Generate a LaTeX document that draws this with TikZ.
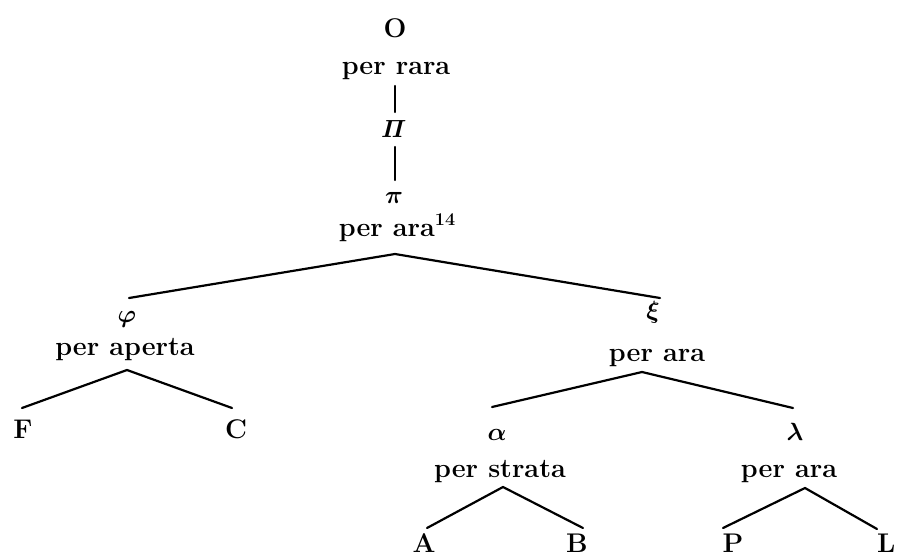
\documentclass[tikz,border=0pt]{standalone}
\begin{document}
\begin{tikzpicture}[x=1pt,y=-1pt,
  lab/.style={anchor=base,inner sep=0pt,font=\fontsize{27}{30}\selectfont\bfseries\boldmath},
  edge/.style={line width=2.2pt,line cap=round}]
\useasboundingbox (0,0) rectangle (897,558);
\node[lab] (O) at (395,37) {O};
\node[lab] (rara) at (396,74) {per rara};
\node[lab] (PiU) at (394,137) {$\mathit{\Pi}$};
\node[lab] (pi) at (394,203) {$\pi$};
\node[lab] (ara14) at (397,236) {per ara\raisebox{0.4em}{\fontsize{18}{18}\selectfont\bfseries 14}};
\node[lab] (phi) at (127,322) {$\varphi$};
\node[lab] (aperta) at (125,355) {per aperta};
\node[lab] (F) at (23,438) {F};
\node[lab] (C) at (236,438) {C};
\node[lab] (xi) at (653,318) {$\xi$};
\node[lab] (ara1) at (657,361) {per ara};
\node[lab] (alpha) at (497,440) {$\alpha$};
\node[lab] (strata) at (500,477) {per strata};
\node[lab] (lambda) at (795,440) {$\lambda$};
\node[lab] (ara2) at (789,477) {per ara};
\node[lab] (A) at (424,552) {A};
\node[lab] (B) at (577,552) {B};
\node[lab] (P) at (733,552) {P};
\node[lab,anchor=base west] (L) at (877,552) {L};
\draw[edge] ([shift={(-1,12)}]rara.base) -- ([shift={(1,-25)}]PiU.base);
\draw[edge] ([shift={(1,10)}]PiU.base) -- ([shift={(1,-23)}]pi.base);
\draw[edge] ([shift={(2,-24)}]phi.base) -- ([shift={(-2,18)}]ara14.base) -- ([shift={(7,-20)}]xi.base);
\draw[edge] ([shift={(-1,-30)}]F.base) -- ([shift={(2,15)}]aperta.base) -- ([shift={(-4,-30)}]C.base);
\draw[edge] ([shift={(-5,-33)}]alpha.base) -- ([shift={(-15,11)}]ara1.base) -- ([shift={(-2,-32)}]lambda.base);
\draw[edge] ([shift={(3,-24)}]A.base) -- ([shift={(3,10)}]strata.base) -- ([shift={(6,-24)}]B.base);
\draw[edge] ([shift={(-10,-24)}]P.base) -- ([shift={(16,11)}]ara2.base) -- ([shift={(0,-23)}]L.base west);
\end{tikzpicture}
\end{document}
